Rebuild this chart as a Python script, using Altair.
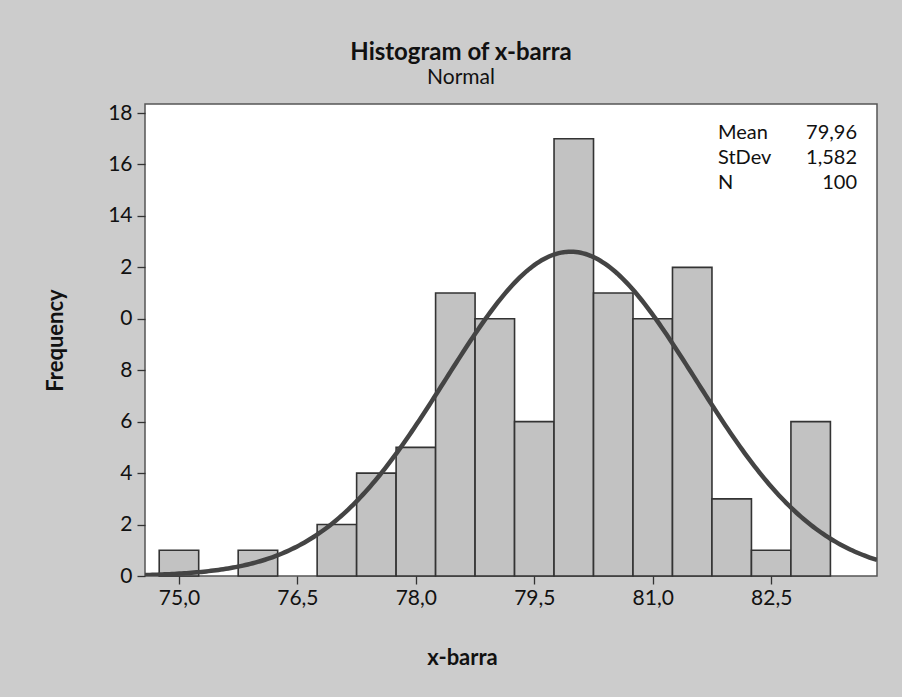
import altair as alt
import numpy as np
import pandas as pd

# Histogram data
bin_centers = [75.0, 75.5, 76.0, 76.5, 77.0, 77.5, 78.0, 78.5, 79.0, 79.5,
               80.0, 80.5, 81.0, 81.5, 82.0, 82.5, 83.0]
counts = [1, 0, 1, 0, 2, 4, 5, 11, 10, 6, 17, 11, 10, 12, 3, 1, 6]
bin_width = 0.5

# Fit statistics shown in the legend box
MEAN = 79.96
STDEV = 1.582
N = 100
stat_labels = ["Mean", "StDev", "N"]
stat_values = ["79,96", "1,582", "100"]

x_ticks = [75.0, 76.5, 78.0, 79.5, 81.0, 82.5]
y_ticks = [0, 2, 4, 6, 8, 10, 12, 14, 16, 18]
# labels as printed in the reference
y_tick_labels = ["0", "2", "4", "6", "8", "0", "2", "14", "16", "18"]

x_domain = [74.57, 83.84]
y_domain = [0, 18.35]

FONT = "Lato"
BG = "#cccccc"
TXT = "#111111"

bars = pd.DataFrame({
    "start": [c - bin_width / 2 for c in bin_centers],
    "end": [c + bin_width / 2 for c in bin_centers],
    "count": counts,
})
bars = bars[bars["count"] > 0]

xs = np.linspace(x_domain[0], x_domain[1], 300)
ys = N * bin_width * np.exp(-0.5 * ((xs - MEAN) / STDEV) ** 2) / (STDEV * np.sqrt(2 * np.pi))
curve = pd.DataFrame({"x": xs, "y": ys})

ylabel_expr = "{" + ",".join(f"'{v}':'{l}'" for v, l in zip(y_ticks, y_tick_labels)) + "}[datum.value]"

xscale = alt.Scale(domain=x_domain, nice=False, zero=False)
yscale = alt.Scale(domain=y_domain, nice=False)

xaxis = alt.Axis(values=x_ticks, labelExpr="replace(format(datum.value, '.1f'), '.', ',')",
                 title="x-barra", titleFont=FONT, titleFontSize=22, titleFontWeight="bold",
                 titleColor=TXT, titleBaseline="middle", titleY=81, titleX=317,
                 labelFont=FONT, labelFontSize=21, labelColor=TXT, labelPadding=3,
                 tickSize=8, tickColor="#333", tickWidth=1.3, domain=False, grid=False)
yaxis = alt.Axis(values=y_ticks, labelExpr=ylabel_expr,
                 title="Frequency", titleFont=FONT, titleFontSize=22, titleFontWeight="bold",
                 titleColor=TXT, titleBaseline="middle", titleAngle=-90, titleX=-90, titleY=236,
                 labelFont=FONT, labelFontSize=21, labelColor=TXT, labelPadding=5,
                 tickSize=8, tickColor="#333", tickWidth=1.3, domain=False, grid=False)

bar_layer = alt.Chart(bars).mark_rect(fill="#c2c2c2", stroke="#333333", strokeWidth=1.6).encode(
    x=alt.X("start:Q", scale=xscale, axis=xaxis),
    x2="end:Q",
    y=alt.Y("count:Q", scale=yscale, axis=yaxis),
    y2=alt.datum(0),
)

curve_layer = alt.Chart(curve).mark_line(color="#444444", strokeWidth=4.5, clip=True).encode(
    x=alt.X("x:Q", scale=xscale),
    y=alt.Y("y:Q", scale=yscale),
)

stat_layers = []
for i, (lab, val) in enumerate(zip(stat_labels, stat_values)):
    row = pd.DataFrame({"label": [lab], "value": [val]})
    ypix = 29 + 25 * i
    stat_layers.append(alt.Chart(row).mark_text(font=FONT, fontSize=20, color=TXT, align="left",
                                                baseline="middle").encode(
        x=alt.value(573), y=alt.value(ypix), text="label:N"))
    stat_layers.append(alt.Chart(row).mark_text(font=FONT, fontSize=20, color=TXT, align="right",
                                                baseline="middle").encode(
        x=alt.value(712), y=alt.value(ypix), text="value:N"))

chart = alt.layer(bar_layer, curve_layer, *stat_layers).properties(
    width=732, height=472,
    autosize=alt.AutoSizeParams(type="none"),
    padding={"left": 145, "top": 104, "right": 25, "bottom": 121},
    background=BG,
    title=alt.TitleParams(text="Histogram of x-barra", subtitle="Normal", font=FONT, fontSize=24,
                          fontWeight="bold", color=TXT, subtitleFont=FONT, subtitleFontSize=21,
                          subtitleColor=TXT, anchor="middle", dx=-50, offset=14, subtitlePadding=2),
).configure_view(fill="white", stroke="#555555", strokeWidth=1.5)

chart.save("out.html", embed_options={"renderer": "svg", "actions": False})
